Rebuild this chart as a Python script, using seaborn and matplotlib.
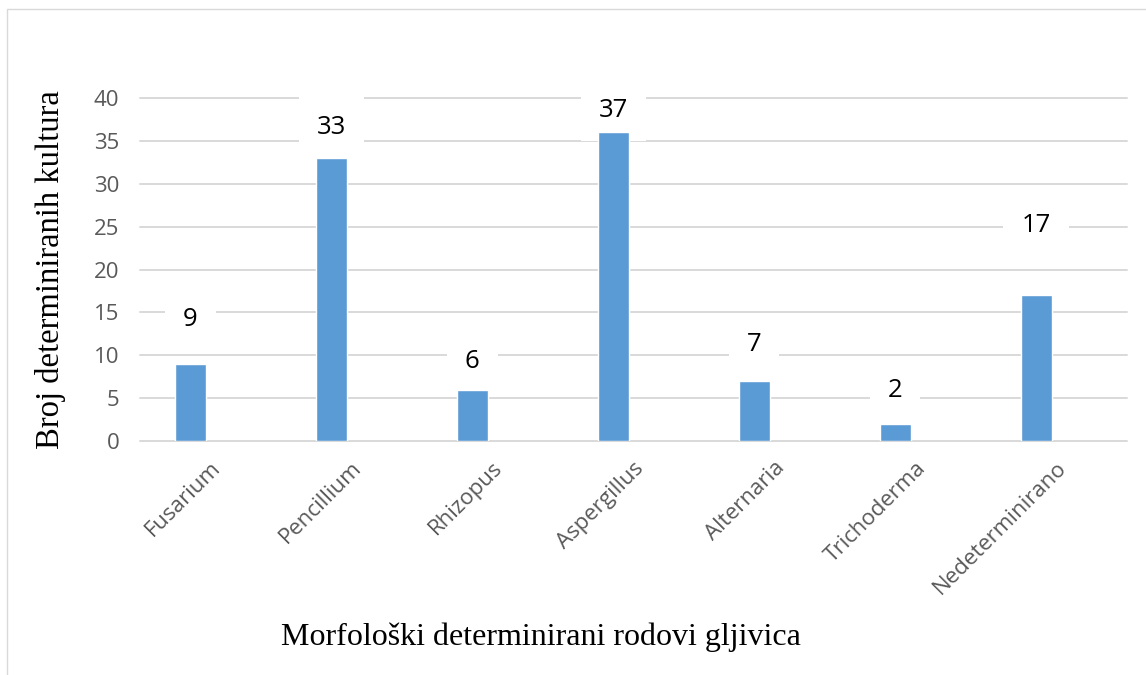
import matplotlib
matplotlib.use("Agg")
import matplotlib.pyplot as plt
from matplotlib.patches import Rectangle
from matplotlib.transforms import ScaledTranslation
import seaborn as sns
import pandas as pd

# %% data
rodovi = ["Fusarium", "Pencillium", "Rhizopus", "Aspergillus",
          "Alternaria", "Trichoderma", "Nedeterminirano"]
broj = [9, 33, 6, 36, 7, 2, 17]
oznake = ["9", "33", "6", "37", "7", "2", "17"]
# distance of each label above its bar, in points (labels were hand-placed)
razmak = [32, 22, 20, 16, 26, 24, 50]

df = pd.DataFrame({"rod": rodovi, "broj": broj})

# %%
sns.set_style("white")
plt.rcParams["font.family"] = ["Open Sans", "DejaVu Sans"]

fig = plt.figure(figsize=(11.46, 6.75), dpi=100)
ax = fig.add_axes([140 / 1146, 1 - 441 / 675, 987 / 1146, 343 / 675])

sns.barplot(data=df, x="rod", y="broj", color="#5B9BD5", saturation=1,
            width=0.22, ax=ax, zorder=3)

ax.set_ylim(0, 40)
ax.set_yticks(range(0, 41, 5))
ax.set_xlim(-50.5 / 141, 6 + 91 / 141)
ax.yaxis.grid(True, color="#D9D9D9", linewidth=1.4)
for line in ax.get_ygridlines():
    line.set_clip_on(False)
ax.set_axisbelow(True)
sns.despine(ax=ax, left=True, bottom=True)

ax.tick_params(axis="both", length=0, labelsize=16, labelcolor="#595959")
ax.tick_params(axis="y", pad=15)
ax.tick_params(axis="x", pad=12)
ax.set_xticks(range(len(rodovi)))
ax.set_xticklabels(rodovi, rotation=45, ha="right", va="top", rotation_mode="anchor")
shift = ScaledTranslation(20 / 100, 0, fig.dpi_scale_trans)
for lbl in ax.get_xticklabels():
    lbl.set_transform(lbl.get_transform() + shift)

for i, (h, txt, d) in enumerate(zip(broj, oznake, razmak)):
    ax.annotate(txt, (i, h), xytext=(0, d), textcoords="offset points",
                ha="center", va="center", fontsize=18.5, color="black", zorder=2,
                bbox=dict(boxstyle="square,pad=0.7", facecolor="white", edgecolor="none"))

ax.set_ylabel("Broj determiniranih kultura", family="Liberation Serif",
              fontsize=23.5, color="black", labelpad=20)
ax.set_xlabel("Morfološki determinirani rodovi gljivica", family="Liberation Serif",
              fontsize=23, color="black")
ax.xaxis.set_label_coords(0.406, -0.53)

# outer chart frame
fig.patches.append(Rectangle((7 / 1146, -0.1), 2, 1.1 - 9 / 675, transform=fig.transFigure,
                             fill=False, edgecolor="#D9D9D9", linewidth=1))

fig.savefig("out.png", dpi=100)
